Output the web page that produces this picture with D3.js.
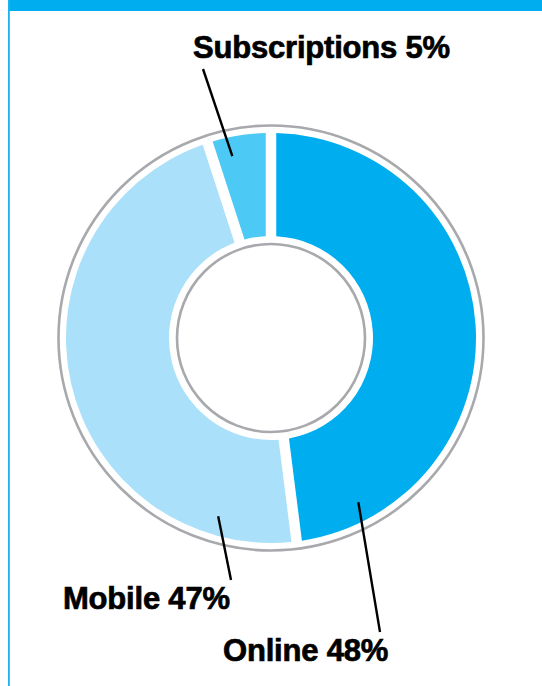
<!DOCTYPE html>
<html>
<head>
<meta charset="utf-8">
<script src="https://cdn.jsdelivr.net/npm/d3@7"></script>
<style>
  html, body { margin: 0; padding: 0; background: #fff; }
  svg { display: block; }
  text { font-family: "Liberation Sans", Arial, Helvetica, sans-serif; font-weight: bold; fill: #000; stroke: #000; stroke-width: 0.7px; }
</style>
</head>
<body>
<script>
// ---- data ----
const categories = ["Online", "Mobile", "Subscriptions"];
const shares = [48, 47, 5];
const colors = ["#00AEEF", "#AAE0F9", "#4CC9F5"];

// ---- layout (not data) ----
const W = 542, H = 686;
const cx = 271, cy = 338;
const rOuter = 205, rInner = 102;
const ringOuter = 212.5, ringInner = 94;
// label placement: leader anchor angle (deg, clockwise from top), leader end, text position
const labelLayout = {
  "Online":        { angle: 152, end: [380, 632], text: [223, 661], anchor: "start" },
  "Mobile":        { angle: 196.5, end: [231, 580], text: [63, 609], anchor: "start" },
  "Subscriptions": { angle: 348, end: [203, 69],  text: [193, 58],  anchor: "start" }
};

const svg = d3.select("body").append("svg").attr("width", W).attr("height", H);

// frame
svg.append("rect").attr("x", 9).attr("y", 0).attr("width", W - 9).attr("height", 11).attr("fill", "#00AEEF");
svg.append("rect").attr("x", 8).attr("y", 0).attr("width", 1.8).attr("height", H).attr("fill", "#1DB3EE");

const g = svg.append("g").attr("transform", `translate(${cx},${cy})`);

// rings
g.append("circle").attr("r", ringOuter).attr("fill", "none").attr("stroke", "#A7A9AC").attr("stroke-width", 2.6);
g.append("circle").attr("r", ringInner).attr("fill", "none").attr("stroke", "#A7A9AC").attr("stroke-width", 2.6);

const data = categories.map((c, i) => ({ name: c, value: shares[i], color: colors[i] }));
const pie = d3.pie().value(d => d.value).sort(null);
const arc = d3.arc().innerRadius(rInner).outerRadius(rOuter).padRadius(rOuter).padAngle(10.5 / rOuter);

g.selectAll("path.slice").data(pie(data)).join("path")
  .attr("class", "slice")
  .attr("d", arc)
  .attr("fill", d => d.data.color);

// leader lines + labels
const leaderR = 186;
data.forEach(d => {
  const L = labelLayout[d.name];
  const a = L.angle * Math.PI / 180;
  const x0 = cx + leaderR * Math.sin(a), y0 = cy - leaderR * Math.cos(a);
  svg.append("line")
    .attr("x1", x0).attr("y1", y0).attr("x2", L.end[0]).attr("y2", L.end[1])
    .attr("stroke", "#000").attr("stroke-width", 2.4);
  svg.append("text")
    .attr("x", L.text[0]).attr("y", L.text[1])
    .attr("text-anchor", L.anchor)
    .attr("font-size", 31)
    .attr("letter-spacing", -0.2)
    .text(`${d.name} ${d.value}%`);
});
</script>
</body>
</html>
